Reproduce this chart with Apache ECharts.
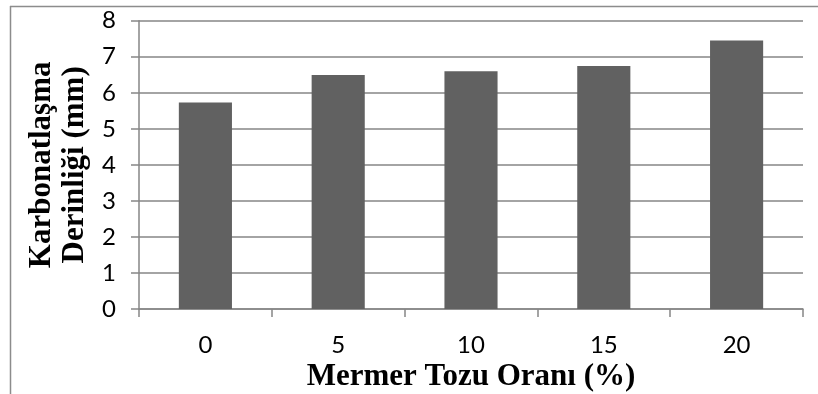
<!DOCTYPE html>
<html>
<head>
<meta charset="utf-8">
<script src="https://cdn.jsdelivr.net/npm/echarts@6/dist/echarts.min.js"></script>
<style>
html,body{margin:0;padding:0;background:#fff;}
#c{width:818px;height:394px;}
</style>
</head>
<body>
<div id="c"></div>
<script>
const categories = ['0', '5', '10', '15', '20'];
const depthValues = [5.73, 6.49, 6.6, 6.74, 7.45];
const yTicks = [0, 1, 2, 3, 4, 5, 6, 7, 8];
const xTitle = 'Mermer Tozu Oranı (%)';
const yTitle = 'Karbonatlaşma\nDerinliği (mm)';

const chart = echarts.init(document.getElementById('c'), null, {renderer: 'canvas'});
const gray = '#868686';
chart.setOption({
  animation: false,
  backgroundColor: '#fff',
  graphic: [
    {type: 'line', shape: {x1: 10, y1: 6.5, x2: 818, y2: 6.5}, style: {stroke: '#8c8c8c', lineWidth: 1.5}},
    {type: 'line', shape: {x1: 10.5, y1: 6, x2: 10.5, y2: 394}, style: {stroke: '#8c8c8c', lineWidth: 1.5}}
  ],
  grid: {left: 139, right: 15, top: 20.7, bottom: 85, containLabel: false, outerBoundsMode: 'none'},
  xAxis: {
    type: 'category',
    data: categories,
    name: xTitle,
    nameLocation: 'middle',
    nameGap: 44,
    nameTextStyle: {fontFamily: 'Liberation Serif', fontWeight: 'bold', fontSize: 31, color: '#000'},
    axisLine: {lineStyle: {color: gray, width: 1.5}},
    axisTick: {show: true, alignWithLabel: false, length: 8, lineStyle: {color: gray, width: 1.5}},
    axisLabel: {margin: 24, fontFamily: 'Lato', fontSize: 24, color: '#000'}
  },
  yAxis: {
    type: 'value',
    min: 0, max: 8, interval: 1,
    name: yTitle,
    nameLocation: 'middle',
    nameGap: 47,
    nameTextStyle: {fontFamily: 'Liberation Serif', fontWeight: 'bold', fontSize: 31, lineHeight: 33, color: '#000'},
    axisLine: {show: true, lineStyle: {color: gray, width: 1.5}},
    axisTick: {show: true, length: 8, lineStyle: {color: gray, width: 1.5}},
    axisLabel: {margin: 23, fontFamily: 'Lato', fontSize: 24, color: '#000',
      formatter: v => yTicks.includes(v) ? String(v) : ''},
    splitLine: {show: true, lineStyle: {color: gray, width: 1.5}}
  },
  series: [{
    type: 'bar',
    data: depthValues,
    barWidth: '40%',
    itemStyle: {color: '#616161'}
  }]
});
</script>
</body>
</html>
